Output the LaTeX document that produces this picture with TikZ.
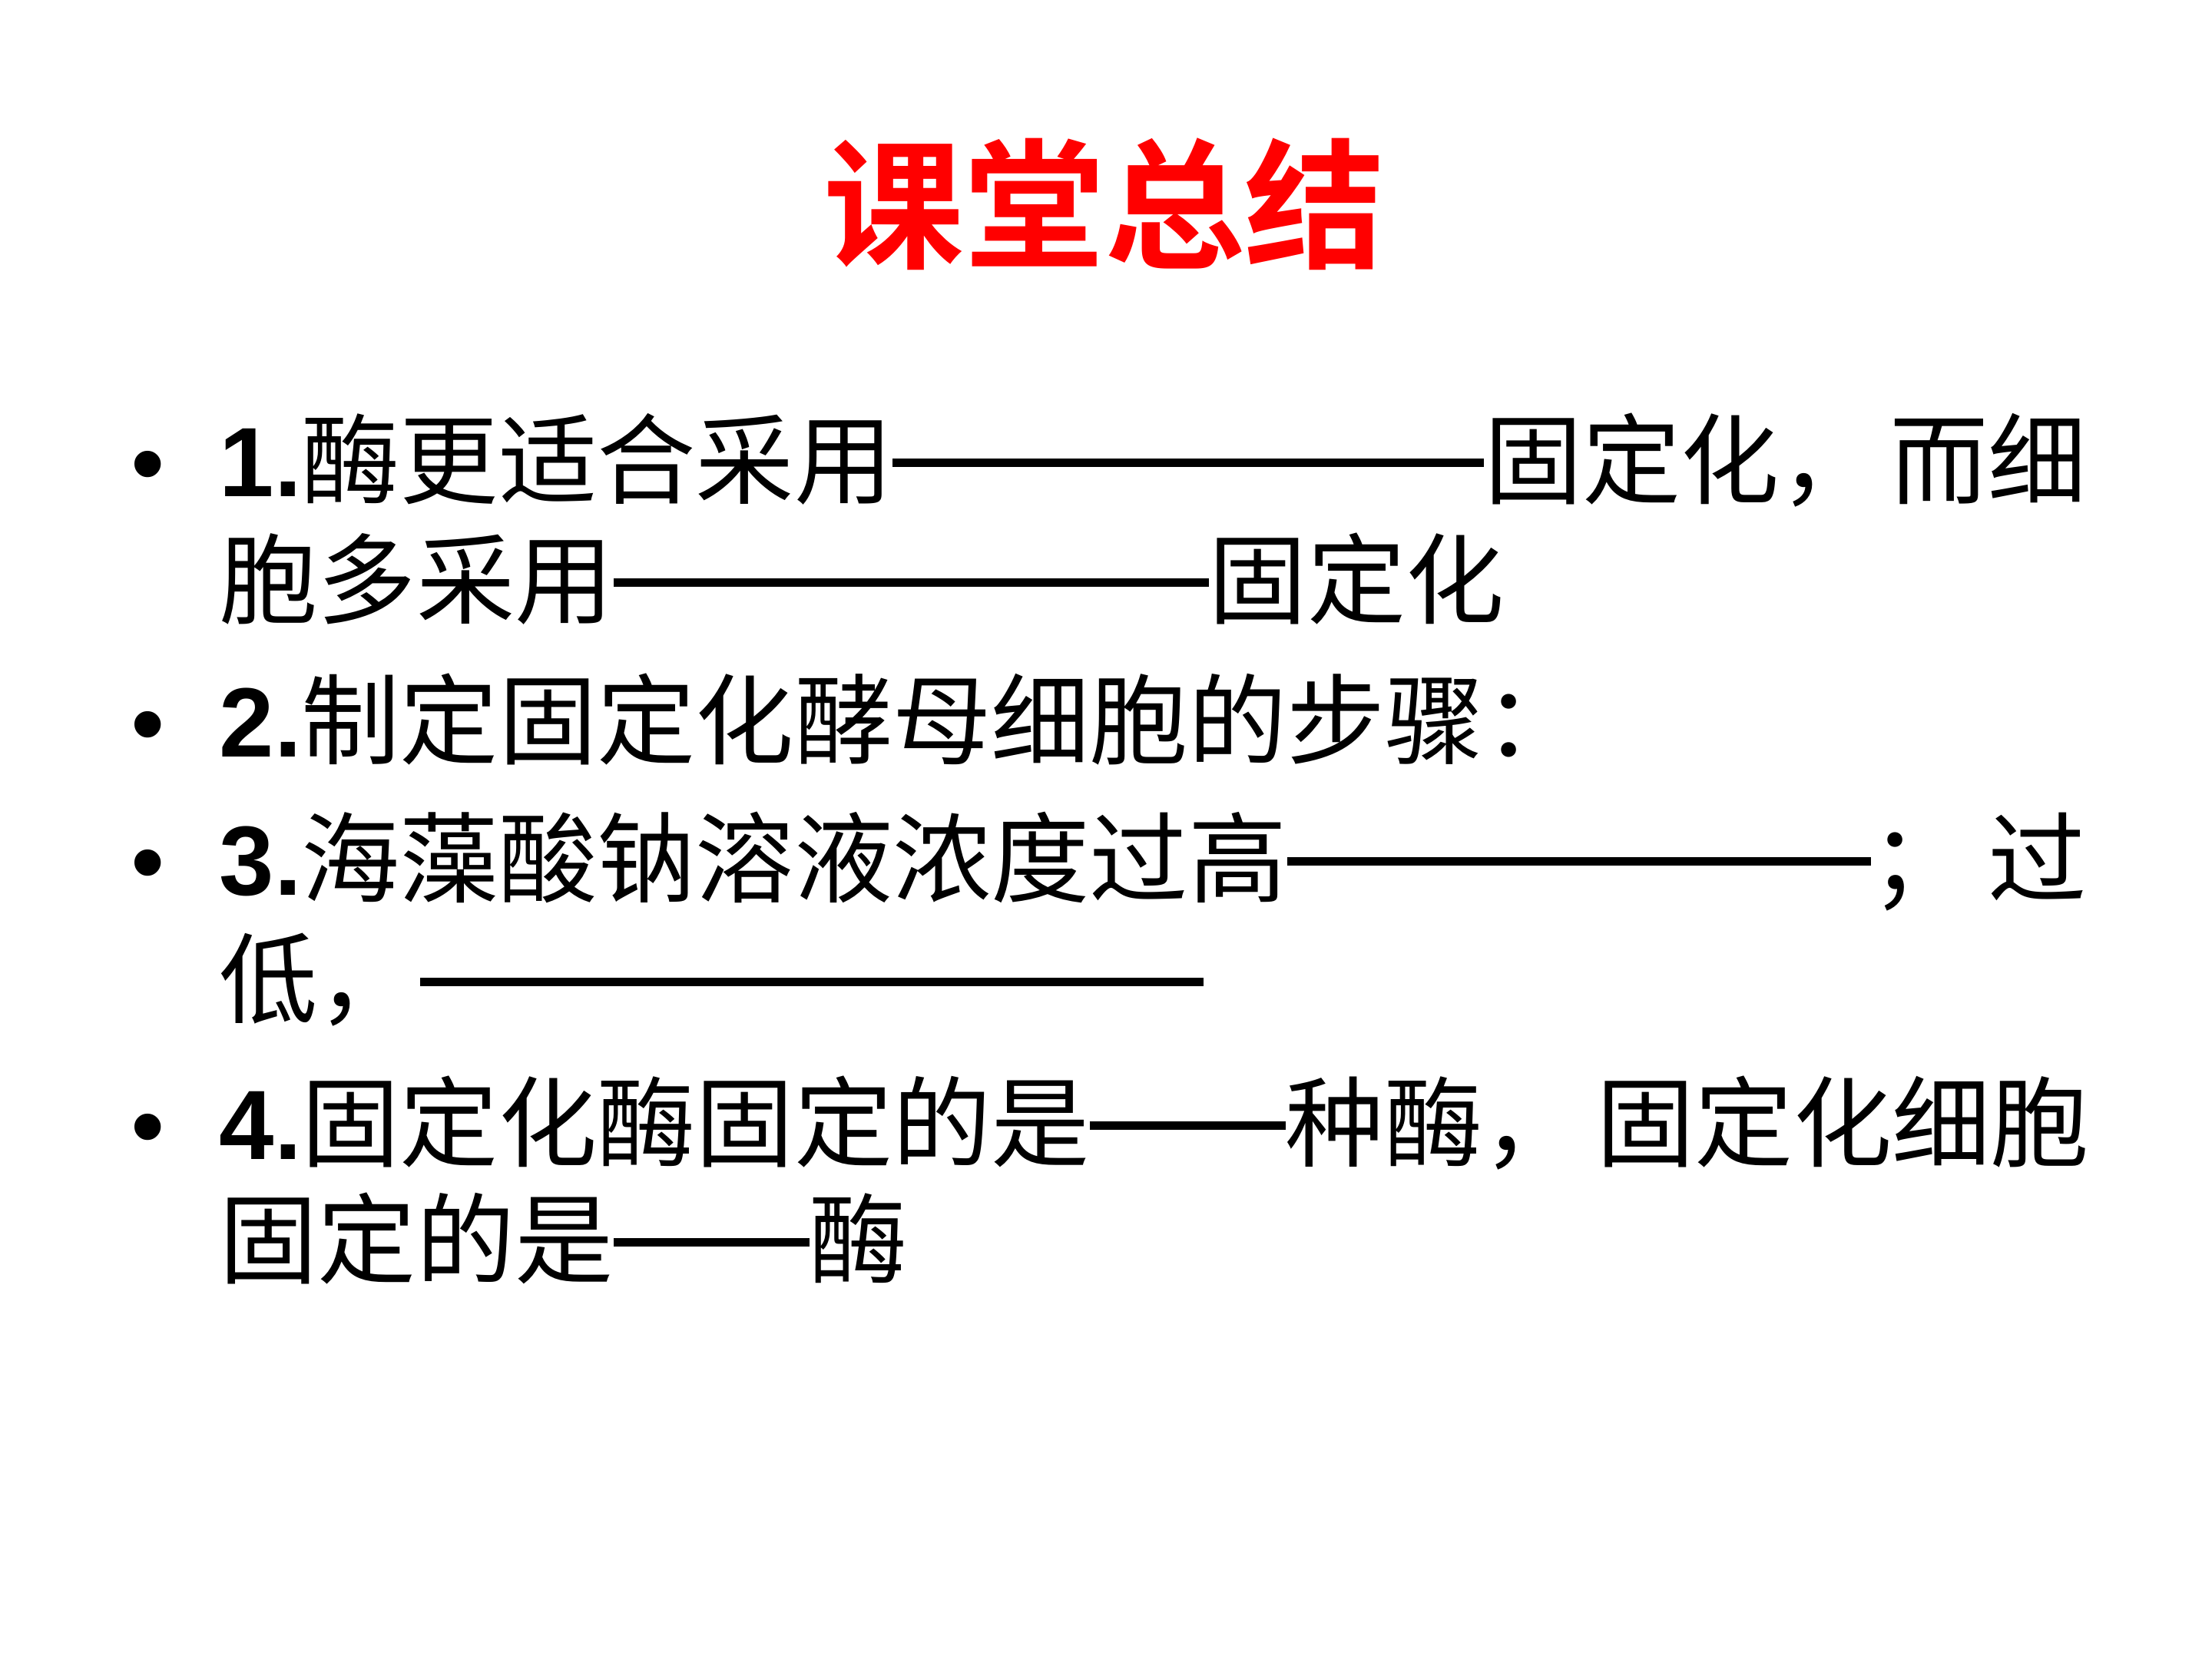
\documentclass[tikz,border=0pt]{standalone}
\usepackage{fontspec}
\setmainfont{Liberation Sans}
\newfontfamily\cjk{Noto Sans CJK SC}
\newfontfamily\cjkb{Noto Sans CJK SC Bold}
\usetikzlibrary{positioning}
\newcommand{\blank}[1]{\rule[0.3em]{#1}{0.11cm}}
\tikzset{
  rowtext/.style={anchor=base west,inner sep=0pt,font=\fontsize{36.5}{40}\selectfont\cjk},
  dot/.style={anchor=base,inner sep=0pt,font=\fontsize{36}{40}\selectfont}
}
\begin{document}
\begin{tikzpicture}
  \useasboundingbox (0,0) rectangle (28.8,21.6);
  \node[anchor=base,inner sep=0pt,text=red,font=\fontsize{52}{56}\selectfont\cjkb] (title) at (14.38,18.24) {课堂总结};

  % bullets
  \node[dot] (b1) at (1.93,15.13) {•};
  \node[dot] (b2) at (1.93,11.74) {•};
  \node[dot] (b3) at (1.93,9.94) {•};
  \node[dot] (b4) at (1.93,6.50) {•};

  \node[rowtext] (r1) at (2.85,15.13) {{\bfseries\rmfamily 1.}酶更适合采用\blank{7.7cm}固定化，\hspace{0.15cm}而细};
  \node[rowtext] (r2) at (2.85,13.57) {胞多采用\blank{7.75cm}固定化};
  \node[rowtext] (r3) at (2.85,11.74) {{\bfseries\rmfamily 2.}制定固定化酵母细胞的步骤：};
  \node[rowtext] (r4) at (2.85,9.94) {{\bfseries\rmfamily 3.}海藻酸钠溶液浓度过高\blank{7.6cm}；\hspace{0.25cm}过};
  \node[rowtext] (r5) at (2.85,8.37) {低，\hspace{0.05cm}\blank{10.2cm}};
  \node[rowtext] (r6) at (2.85,6.50) {{\bfseries\rmfamily 4.}固定化酶固定的是\blank{2.55cm}种酶，\hspace{0.2cm}固定化细胞};
  \node[rowtext] (r7) at (2.85,4.98) {固定的是\blank{2.55cm}酶};
\end{tikzpicture}
\end{document}
